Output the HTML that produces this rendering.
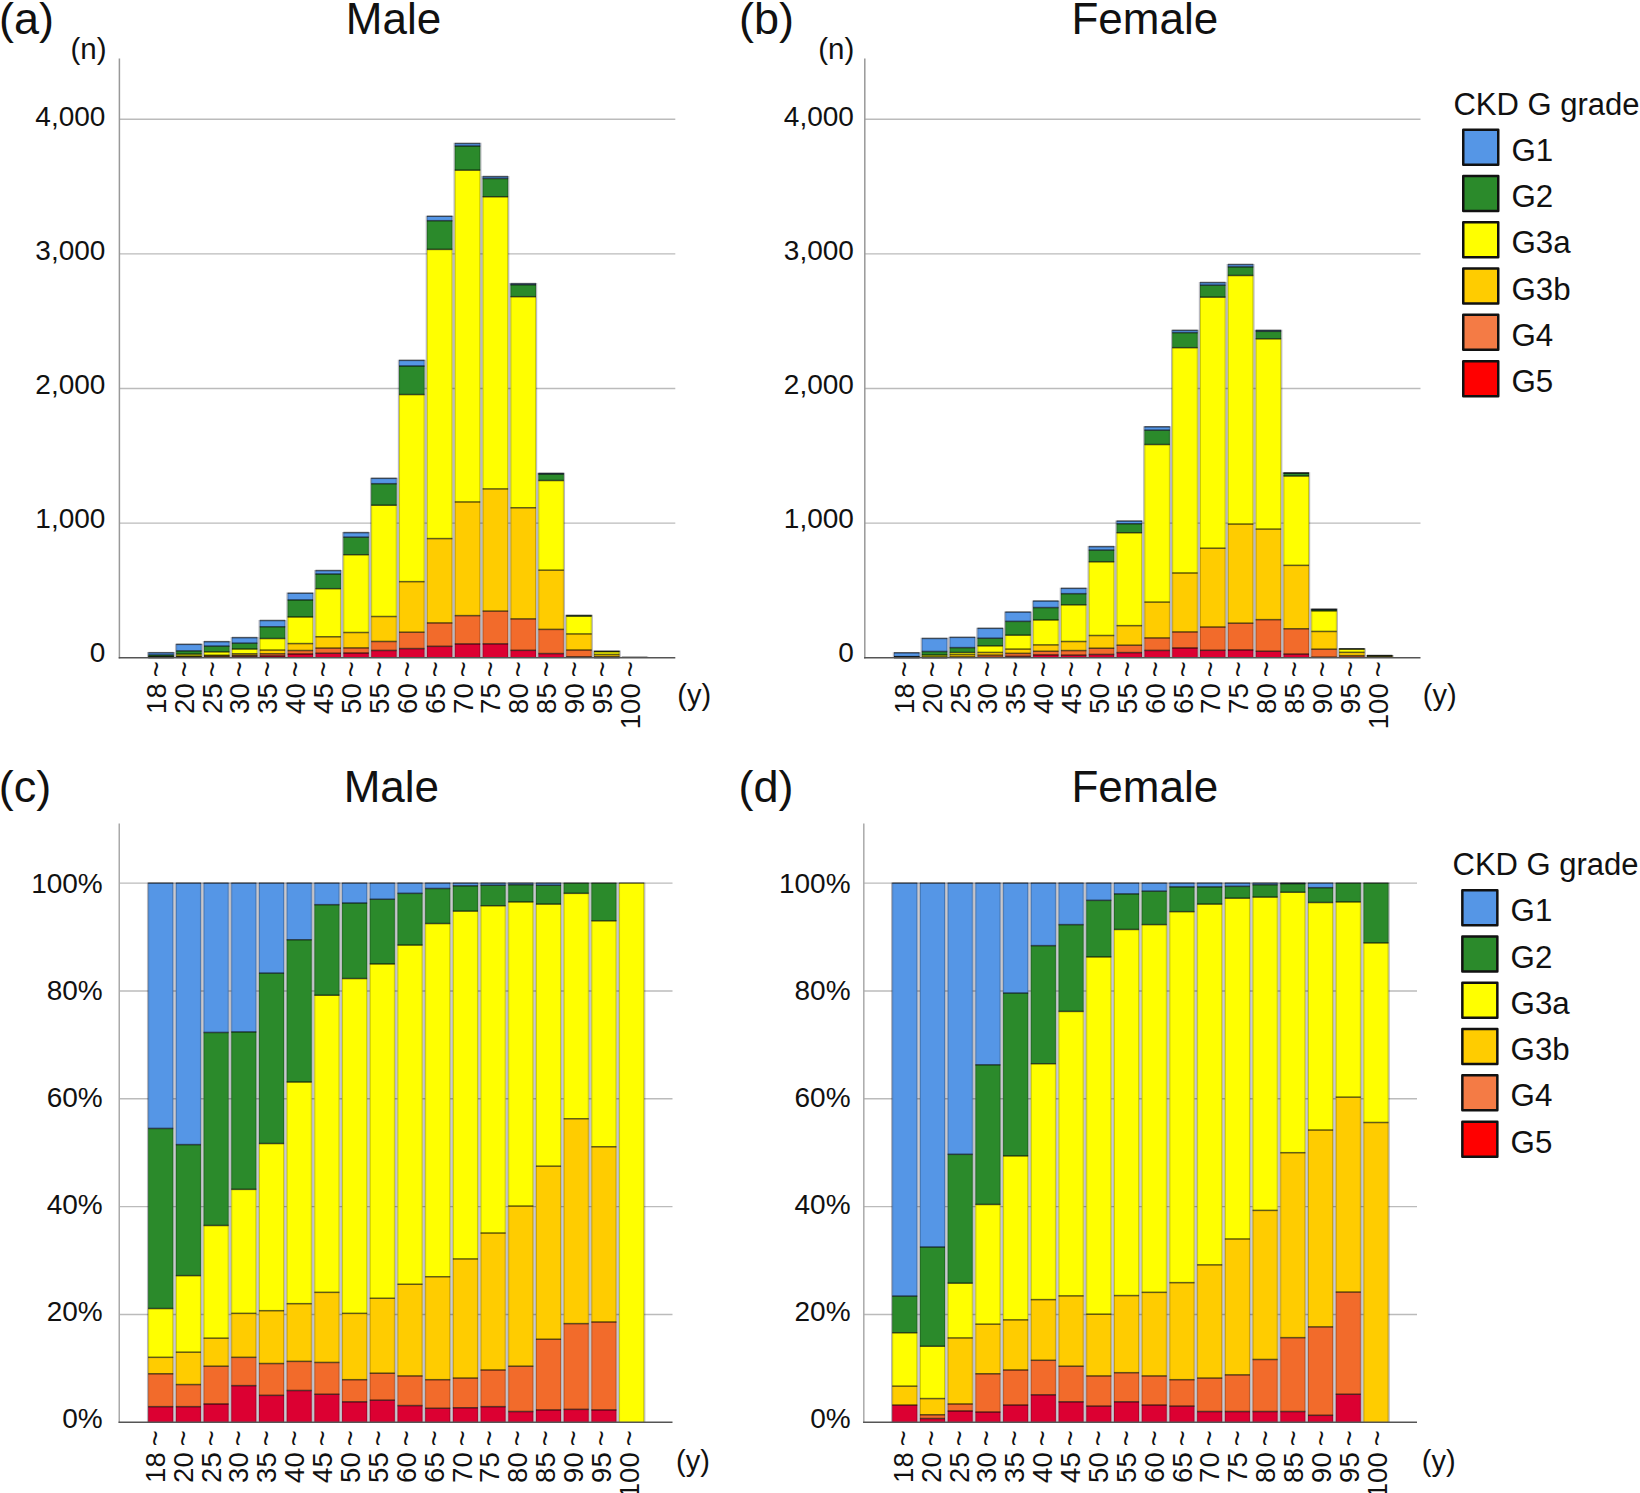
<!DOCTYPE html>
<html lang="en">
<head>
<meta charset="utf-8">
<title>CKD G grade distribution by age and sex</title>
<style>
html,body{margin:0;padding:0;background:#fff;}
body{width:1640px;height:1493px;overflow:hidden;}
svg{display:block;}
</style>
</head>
<body>
<svg width="1640" height="1493" viewBox="0 0 1640 1493">
<rect width="1640" height="1493" fill="#fff"/>
<line x1="119.4" y1="523.15" x2="675.3" y2="523.15" stroke="#bbb" stroke-width="1.4"/>
<line x1="119.4" y1="388.5" x2="675.3" y2="388.5" stroke="#bbb" stroke-width="1.4"/>
<line x1="119.4" y1="253.85" x2="675.3" y2="253.85" stroke="#bbb" stroke-width="1.4"/>
<line x1="119.4" y1="119.2" x2="675.3" y2="119.2" stroke="#bbb" stroke-width="1.4"/>
<line x1="119.4" y1="58.5" x2="119.4" y2="658.5" stroke="#999" stroke-width="1.5"/>
<g shape-rendering="auto">
<rect x="148.3" y="657.65" width="25.5" height="0.15" fill="#DC0032"/>
<rect x="148.3" y="657.34" width="25.5" height="0.31" fill="#F26B2B"/>
<rect x="148.3" y="657.18" width="25.5" height="0.16" fill="#FFCC00"/>
<rect x="148.3" y="656.72" width="25.5" height="0.46" fill="#FFFF00"/>
<rect x="148.3" y="655.01" width="25.5" height="1.71" fill="#2B8A2B"/>
<rect x="148.3" y="652.68" width="25.5" height="2.33" fill="#5596E6"/>
<rect x="176.16" y="657.41" width="25.5" height="0.39" fill="#DC0032"/>
<rect x="176.16" y="656.86" width="25.5" height="0.55" fill="#F26B2B"/>
<rect x="176.16" y="656.05" width="25.5" height="0.81" fill="#FFCC00"/>
<rect x="176.16" y="654.14" width="25.5" height="1.91" fill="#FFFF00"/>
<rect x="176.16" y="650.87" width="25.5" height="3.27" fill="#2B8A2B"/>
<rect x="176.16" y="644.33" width="25.5" height="6.53" fill="#5596E6"/>
<rect x="204.02" y="657.25" width="25.5" height="0.55" fill="#DC0032"/>
<rect x="204.02" y="656.12" width="25.5" height="1.13" fill="#F26B2B"/>
<rect x="204.02" y="655.28" width="25.5" height="0.84" fill="#FFCC00"/>
<rect x="204.02" y="651.9" width="25.5" height="3.38" fill="#FFFF00"/>
<rect x="204.02" y="646.12" width="25.5" height="5.78" fill="#2B8A2B"/>
<rect x="204.02" y="641.64" width="25.5" height="4.48" fill="#5596E6"/>
<rect x="231.88" y="656.43" width="25.5" height="1.37" fill="#DC0032"/>
<rect x="231.88" y="655.37" width="25.5" height="1.06" fill="#F26B2B"/>
<rect x="231.88" y="653.72" width="25.5" height="1.65" fill="#FFCC00"/>
<rect x="231.88" y="649.07" width="25.5" height="4.65" fill="#FFFF00"/>
<rect x="231.88" y="643.18" width="25.5" height="5.9" fill="#2B8A2B"/>
<rect x="231.88" y="637.6" width="25.5" height="5.57" fill="#5596E6"/>
<rect x="259.74" y="655.94" width="25.5" height="1.86" fill="#DC0032"/>
<rect x="259.74" y="653.73" width="25.5" height="2.2" fill="#F26B2B"/>
<rect x="259.74" y="650.08" width="25.5" height="3.66" fill="#FFCC00"/>
<rect x="259.74" y="638.52" width="25.5" height="11.56" fill="#FFFF00"/>
<rect x="259.74" y="626.73" width="25.5" height="11.79" fill="#2B8A2B"/>
<rect x="259.74" y="620.5" width="25.5" height="6.23" fill="#5596E6"/>
<rect x="287.6" y="653.99" width="25.5" height="3.81" fill="#DC0032"/>
<rect x="287.6" y="650.5" width="25.5" height="3.49" fill="#F26B2B"/>
<rect x="287.6" y="643.58" width="25.5" height="6.92" fill="#FFCC00"/>
<rect x="287.6" y="617.02" width="25.5" height="26.56" fill="#FFFF00"/>
<rect x="287.6" y="599.95" width="25.5" height="17.06" fill="#2B8A2B"/>
<rect x="287.6" y="593.17" width="25.5" height="6.79" fill="#5596E6"/>
<rect x="315.46" y="653.26" width="25.5" height="4.54" fill="#DC0032"/>
<rect x="315.46" y="648.11" width="25.5" height="5.15" fill="#F26B2B"/>
<rect x="315.46" y="636.77" width="25.5" height="11.34" fill="#FFCC00"/>
<rect x="315.46" y="588.7" width="25.5" height="48.08" fill="#FFFF00"/>
<rect x="315.46" y="574.04" width="25.5" height="14.66" fill="#2B8A2B"/>
<rect x="315.46" y="570.55" width="25.5" height="3.49" fill="#5596E6"/>
<rect x="343.32" y="653.04" width="25.5" height="4.76" fill="#DC0032"/>
<rect x="343.32" y="647.91" width="25.5" height="5.13" fill="#F26B2B"/>
<rect x="343.32" y="632.5" width="25.5" height="15.4" fill="#FFCC00"/>
<rect x="343.32" y="554.74" width="25.5" height="77.76" fill="#FFFF00"/>
<rect x="343.32" y="537.21" width="25.5" height="17.53" fill="#2B8A2B"/>
<rect x="343.32" y="532.58" width="25.5" height="4.63" fill="#5596E6"/>
<rect x="371.18" y="650.44" width="25.5" height="7.36" fill="#DC0032"/>
<rect x="371.18" y="641.47" width="25.5" height="8.97" fill="#F26B2B"/>
<rect x="371.18" y="616.52" width="25.5" height="24.95" fill="#FFCC00"/>
<rect x="371.18" y="505.23" width="25.5" height="111.28" fill="#FFFF00"/>
<rect x="371.18" y="483.7" width="25.5" height="21.54" fill="#2B8A2B"/>
<rect x="371.18" y="478.31" width="25.5" height="5.38" fill="#5596E6"/>
<rect x="399.04" y="648.58" width="25.5" height="9.22" fill="#DC0032"/>
<rect x="399.04" y="632.22" width="25.5" height="16.36" fill="#F26B2B"/>
<rect x="399.04" y="581.65" width="25.5" height="50.57" fill="#FFCC00"/>
<rect x="399.04" y="394.56" width="25.5" height="187.09" fill="#FFFF00"/>
<rect x="399.04" y="366.01" width="25.5" height="28.55" fill="#2B8A2B"/>
<rect x="399.04" y="360.36" width="25.5" height="5.65" fill="#5596E6"/>
<rect x="426.9" y="646.32" width="25.5" height="11.48" fill="#DC0032"/>
<rect x="426.9" y="622.92" width="25.5" height="23.4" fill="#F26B2B"/>
<rect x="426.9" y="538.59" width="25.5" height="84.33" fill="#FFCC00"/>
<rect x="426.9" y="249.4" width="25.5" height="289.19" fill="#FFFF00"/>
<rect x="426.9" y="220.7" width="25.5" height="28.7" fill="#2B8A2B"/>
<rect x="426.9" y="216.28" width="25.5" height="4.42" fill="#5596E6"/>
<rect x="454.76" y="643.91" width="25.5" height="13.89" fill="#DC0032"/>
<rect x="454.76" y="615.62" width="25.5" height="28.29" fill="#F26B2B"/>
<rect x="454.76" y="501.95" width="25.5" height="113.67" fill="#FFCC00"/>
<rect x="454.76" y="170.18" width="25.5" height="331.76" fill="#FFFF00"/>
<rect x="454.76" y="146.01" width="25.5" height="24.18" fill="#2B8A2B"/>
<rect x="454.76" y="143.44" width="25.5" height="2.57" fill="#5596E6"/>
<rect x="482.62" y="643.84" width="25.5" height="13.96" fill="#DC0032"/>
<rect x="482.62" y="611.12" width="25.5" height="32.72" fill="#F26B2B"/>
<rect x="482.62" y="488.89" width="25.5" height="122.23" fill="#FFCC00"/>
<rect x="482.62" y="196.77" width="25.5" height="292.11" fill="#FFFF00"/>
<rect x="482.62" y="178.49" width="25.5" height="18.29" fill="#2B8A2B"/>
<rect x="482.62" y="176.56" width="25.5" height="1.92" fill="#5596E6"/>
<rect x="510.48" y="650.32" width="25.5" height="7.48" fill="#DC0032"/>
<rect x="510.48" y="618.88" width="25.5" height="31.43" fill="#F26B2B"/>
<rect x="510.48" y="507.75" width="25.5" height="111.14" fill="#FFCC00"/>
<rect x="510.48" y="296.7" width="25.5" height="211.04" fill="#FFFF00"/>
<rect x="510.48" y="284.73" width="25.5" height="11.97" fill="#2B8A2B"/>
<rect x="510.48" y="283.61" width="25.5" height="1.12" fill="#5596E6"/>
<rect x="538.34" y="653.56" width="25.5" height="4.24" fill="#DC0032"/>
<rect x="538.34" y="629.39" width="25.5" height="24.17" fill="#F26B2B"/>
<rect x="538.34" y="570.18" width="25.5" height="59.22" fill="#FFCC00"/>
<rect x="538.34" y="480.52" width="25.5" height="89.65" fill="#FFFF00"/>
<rect x="538.34" y="474.07" width="25.5" height="6.46" fill="#2B8A2B"/>
<rect x="538.34" y="473.33" width="25.5" height="0.74" fill="#5596E6"/>
<rect x="566.2" y="656.78" width="25.5" height="1.02" fill="#DC0032"/>
<rect x="566.2" y="650.04" width="25.5" height="6.74" fill="#F26B2B"/>
<rect x="566.2" y="633.92" width="25.5" height="16.12" fill="#FFCC00"/>
<rect x="566.2" y="616.19" width="25.5" height="17.73" fill="#FFFF00"/>
<rect x="566.2" y="615.39" width="25.5" height="0.81" fill="#2B8A2B"/>
<rect x="594.06" y="657.65" width="25.5" height="0.15" fill="#DC0032"/>
<rect x="594.06" y="656.57" width="25.5" height="1.08" fill="#F26B2B"/>
<rect x="594.06" y="654.43" width="25.5" height="2.14" fill="#FFCC00"/>
<rect x="594.06" y="651.66" width="25.5" height="2.76" fill="#FFFF00"/>
<rect x="594.06" y="651.2" width="25.5" height="0.46" fill="#2B8A2B"/>
<rect x="621.92" y="657.26" width="25.5" height="0.54" fill="#FFFF00"/>
</g>
<g stroke="#000" stroke-opacity="0.2" stroke-width="1" fill="none">
<path d="M148.8 657.8V652.68M173.3 657.8V652.68"/>
<path d="M176.66 657.8V644.33M201.16 657.8V644.33"/>
<path d="M204.52 657.8V641.64M229.02 657.8V641.64"/>
<path d="M232.38 657.8V637.6M256.88 657.8V637.6"/>
<path d="M260.24 657.8V620.5M284.74 657.8V620.5"/>
<path d="M288.1 657.8V593.17M312.6 657.8V593.17"/>
<path d="M315.96 657.8V570.55M340.46 657.8V570.55"/>
<path d="M343.82 657.8V532.58M368.32 657.8V532.58"/>
<path d="M371.68 657.8V478.31M396.18 657.8V478.31"/>
<path d="M399.54 657.8V360.36M424.04 657.8V360.36"/>
<path d="M427.4 657.8V216.28M451.9 657.8V216.28"/>
<path d="M455.26 657.8V143.44M479.76 657.8V143.44"/>
<path d="M483.12 657.8V176.56M507.62 657.8V176.56"/>
<path d="M510.98 657.8V283.61M535.48 657.8V283.61"/>
<path d="M538.84 657.8V473.33M563.34 657.8V473.33"/>
<path d="M566.7 657.8V615.39M591.2 657.8V615.39"/>
<path d="M594.56 657.8V651.2M619.06 657.8V651.2"/>
<path d="M622.42 657.8V657.26M646.92 657.8V657.26"/>
</g>
<g stroke="#14142a" stroke-opacity="0.3" stroke-width="1.2" fill="none">
<path d="M147.7 657.8V652.08M174.4 657.8V652.08"/>
<path d="M175.56 657.8V643.73M202.26 657.8V643.73"/>
<path d="M203.42 657.8V641.04M230.12 657.8V641.04"/>
<path d="M231.28 657.8V637M257.98 657.8V637"/>
<path d="M259.14 657.8V619.9M285.84 657.8V619.9"/>
<path d="M287 657.8V592.57M313.7 657.8V592.57"/>
<path d="M314.86 657.8V569.95M341.56 657.8V569.95"/>
<path d="M342.72 657.8V531.98M369.42 657.8V531.98"/>
<path d="M370.58 657.8V477.71M397.28 657.8V477.71"/>
<path d="M398.44 657.8V359.76M425.14 657.8V359.76"/>
<path d="M426.3 657.8V215.68M453 657.8V215.68"/>
<path d="M454.16 657.8V142.84M480.86 657.8V142.84"/>
<path d="M482.02 657.8V175.96M508.72 657.8V175.96"/>
<path d="M509.88 657.8V283.01M536.58 657.8V283.01"/>
<path d="M537.74 657.8V472.73M564.44 657.8V472.73"/>
<path d="M565.6 657.8V614.79M592.3 657.8V614.79"/>
<path d="M593.46 657.8V650.6M620.16 657.8V650.6"/>
<path d="M621.32 657.8V656.66M648.02 657.8V656.66"/>
</g>
<g stroke="#000" stroke-opacity="0.62" stroke-width="1.5" fill="none">
<path d="M148.3 657.65h25.5"/>
<path d="M148.3 657.34h25.5"/>
<path d="M148.3 657.18h25.5"/>
<path d="M148.3 656.72h25.5"/>
<path d="M148.3 655.01h25.5"/>
<path d="M148.3 652.68h25.5"/>
<path d="M176.16 657.41h25.5"/>
<path d="M176.16 656.86h25.5"/>
<path d="M176.16 656.05h25.5"/>
<path d="M176.16 654.14h25.5"/>
<path d="M176.16 650.87h25.5"/>
<path d="M176.16 644.33h25.5"/>
<path d="M204.02 657.25h25.5"/>
<path d="M204.02 656.12h25.5"/>
<path d="M204.02 655.28h25.5"/>
<path d="M204.02 651.9h25.5"/>
<path d="M204.02 646.12h25.5"/>
<path d="M204.02 641.64h25.5"/>
<path d="M231.88 656.43h25.5"/>
<path d="M231.88 655.37h25.5"/>
<path d="M231.88 653.72h25.5"/>
<path d="M231.88 649.07h25.5"/>
<path d="M231.88 643.18h25.5"/>
<path d="M231.88 637.6h25.5"/>
<path d="M259.74 655.94h25.5"/>
<path d="M259.74 653.73h25.5"/>
<path d="M259.74 650.08h25.5"/>
<path d="M259.74 638.52h25.5"/>
<path d="M259.74 626.73h25.5"/>
<path d="M259.74 620.5h25.5"/>
<path d="M287.6 653.99h25.5"/>
<path d="M287.6 650.5h25.5"/>
<path d="M287.6 643.58h25.5"/>
<path d="M287.6 617.02h25.5"/>
<path d="M287.6 599.95h25.5"/>
<path d="M287.6 593.17h25.5"/>
<path d="M315.46 653.26h25.5"/>
<path d="M315.46 648.11h25.5"/>
<path d="M315.46 636.77h25.5"/>
<path d="M315.46 588.7h25.5"/>
<path d="M315.46 574.04h25.5"/>
<path d="M315.46 570.55h25.5"/>
<path d="M343.32 653.04h25.5"/>
<path d="M343.32 647.91h25.5"/>
<path d="M343.32 632.5h25.5"/>
<path d="M343.32 554.74h25.5"/>
<path d="M343.32 537.21h25.5"/>
<path d="M343.32 532.58h25.5"/>
<path d="M371.18 650.44h25.5"/>
<path d="M371.18 641.47h25.5"/>
<path d="M371.18 616.52h25.5"/>
<path d="M371.18 505.23h25.5"/>
<path d="M371.18 483.7h25.5"/>
<path d="M371.18 478.31h25.5"/>
<path d="M399.04 648.58h25.5"/>
<path d="M399.04 632.22h25.5"/>
<path d="M399.04 581.65h25.5"/>
<path d="M399.04 394.56h25.5"/>
<path d="M399.04 366.01h25.5"/>
<path d="M399.04 360.36h25.5"/>
<path d="M426.9 646.32h25.5"/>
<path d="M426.9 622.92h25.5"/>
<path d="M426.9 538.59h25.5"/>
<path d="M426.9 249.4h25.5"/>
<path d="M426.9 220.7h25.5"/>
<path d="M426.9 216.28h25.5"/>
<path d="M454.76 643.91h25.5"/>
<path d="M454.76 615.62h25.5"/>
<path d="M454.76 501.95h25.5"/>
<path d="M454.76 170.18h25.5"/>
<path d="M454.76 146.01h25.5"/>
<path d="M454.76 143.44h25.5"/>
<path d="M482.62 643.84h25.5"/>
<path d="M482.62 611.12h25.5"/>
<path d="M482.62 488.89h25.5"/>
<path d="M482.62 196.77h25.5"/>
<path d="M482.62 178.49h25.5"/>
<path d="M482.62 176.56h25.5"/>
<path d="M510.48 650.32h25.5"/>
<path d="M510.48 618.88h25.5"/>
<path d="M510.48 507.75h25.5"/>
<path d="M510.48 296.7h25.5"/>
<path d="M510.48 284.73h25.5"/>
<path d="M510.48 283.61h25.5"/>
<path d="M538.34 653.56h25.5"/>
<path d="M538.34 629.39h25.5"/>
<path d="M538.34 570.18h25.5"/>
<path d="M538.34 480.52h25.5"/>
<path d="M538.34 474.07h25.5"/>
<path d="M538.34 473.33h25.5"/>
<path d="M566.2 656.78h25.5"/>
<path d="M566.2 650.04h25.5"/>
<path d="M566.2 633.92h25.5"/>
<path d="M566.2 616.19h25.5"/>
<path d="M566.2 615.39h25.5"/>
<path d="M594.06 657.65h25.5"/>
<path d="M594.06 656.57h25.5"/>
<path d="M594.06 654.43h25.5"/>
<path d="M594.06 651.66h25.5"/>
<path d="M594.06 651.2h25.5"/>
<path d="M621.92 657.26h25.5"/>
</g>
<line x1="118.7" y1="657.8" x2="675.3" y2="657.8" stroke="#555" stroke-width="1.5"/>
<g font-family="'Liberation Sans', sans-serif" font-size="28" fill="#111" text-anchor="end">
<text x="105.4" y="662.2">0</text>
<text x="105.4" y="528.2">1,000</text>
<text x="105.4" y="394.2">2,000</text>
<text x="105.4" y="260.2">3,000</text>
<text x="105.4" y="126.2">4,000</text>
</g>
<text font-family="'Liberation Sans', sans-serif" font-size="29.5" fill="#111" x="70.5" y="59.4">(n)</text>
<g font-family="'Liberation Sans', sans-serif" font-size="27.5" fill="#111" text-anchor="end" word-spacing="-1.6">
<text transform="translate(165.8 661.2) rotate(-90)">18 ~</text>
<text transform="translate(193.69 661.2) rotate(-90)">20 ~</text>
<text transform="translate(221.58 661.2) rotate(-90)">25 ~</text>
<text transform="translate(249.47 661.2) rotate(-90)">30 ~</text>
<text transform="translate(277.36 661.2) rotate(-90)">35 ~</text>
<text transform="translate(305.25 661.2) rotate(-90)">40 ~</text>
<text transform="translate(333.14 661.2) rotate(-90)">45 ~</text>
<text transform="translate(361.03 661.2) rotate(-90)">50 ~</text>
<text transform="translate(388.92 661.2) rotate(-90)">55 ~</text>
<text transform="translate(416.81 661.2) rotate(-90)">60 ~</text>
<text transform="translate(444.7 661.2) rotate(-90)">65 ~</text>
<text transform="translate(472.59 661.2) rotate(-90)">70 ~</text>
<text transform="translate(500.48 661.2) rotate(-90)">75 ~</text>
<text transform="translate(528.37 661.2) rotate(-90)">80 ~</text>
<text transform="translate(556.26 661.2) rotate(-90)">85 ~</text>
<text transform="translate(584.15 661.2) rotate(-90)">90 ~</text>
<text transform="translate(612.04 661.2) rotate(-90)">95 ~</text>
<text transform="translate(639.93 661.2) rotate(-90)">100 ~</text>
</g>
<text font-family="'Liberation Sans', sans-serif" font-size="29" fill="#111" x="677.3" y="705.2">(y)</text>
<text font-family="'Liberation Sans', sans-serif" font-size="45" fill="#111" x="-1" y="34">(a)</text>
<text font-family="'Liberation Sans', sans-serif" font-size="44" fill="#111" text-anchor="middle" x="393.5" y="34.4">Male</text>
<line x1="864.8" y1="523.15" x2="1420.5" y2="523.15" stroke="#bbb" stroke-width="1.4"/>
<line x1="864.8" y1="388.5" x2="1420.5" y2="388.5" stroke="#bbb" stroke-width="1.4"/>
<line x1="864.8" y1="253.85" x2="1420.5" y2="253.85" stroke="#bbb" stroke-width="1.4"/>
<line x1="864.8" y1="119.2" x2="1420.5" y2="119.2" stroke="#bbb" stroke-width="1.4"/>
<line x1="864.8" y1="58.5" x2="864.8" y2="658.5" stroke="#999" stroke-width="1.5"/>
<g shape-rendering="auto">
<rect x="894" y="657.64" width="25.5" height="0.16" fill="#DC0032"/>
<rect x="894" y="657.46" width="25.5" height="0.18" fill="#FFCC00"/>
<rect x="894" y="656.96" width="25.5" height="0.5" fill="#FFFF00"/>
<rect x="894" y="656.62" width="25.5" height="0.34" fill="#2B8A2B"/>
<rect x="894" y="652.75" width="25.5" height="3.87" fill="#5596E6"/>
<rect x="921.82" y="657.66" width="25.5" height="0.14" fill="#DC0032"/>
<rect x="921.82" y="657.53" width="25.5" height="0.14" fill="#F26B2B"/>
<rect x="921.82" y="656.95" width="25.5" height="0.58" fill="#FFCC00"/>
<rect x="921.82" y="655.07" width="25.5" height="1.88" fill="#FFFF00"/>
<rect x="921.82" y="651.5" width="25.5" height="3.57" fill="#2B8A2B"/>
<rect x="921.82" y="638.41" width="25.5" height="13.09" fill="#5596E6"/>
<rect x="949.64" y="657.37" width="25.5" height="0.43" fill="#DC0032"/>
<rect x="949.64" y="657.1" width="25.5" height="0.27" fill="#F26B2B"/>
<rect x="949.64" y="654.6" width="25.5" height="2.51" fill="#FFCC00"/>
<rect x="949.64" y="652.52" width="25.5" height="2.08" fill="#FFFF00"/>
<rect x="949.64" y="647.63" width="25.5" height="4.89" fill="#2B8A2B"/>
<rect x="949.64" y="637.33" width="25.5" height="10.29" fill="#5596E6"/>
<rect x="977.46" y="657.24" width="25.5" height="0.56" fill="#DC0032"/>
<rect x="977.46" y="655.15" width="25.5" height="2.09" fill="#F26B2B"/>
<rect x="977.46" y="652.43" width="25.5" height="2.71" fill="#FFCC00"/>
<rect x="977.46" y="645.89" width="25.5" height="6.55" fill="#FFFF00"/>
<rect x="977.46" y="638.25" width="25.5" height="7.64" fill="#2B8A2B"/>
<rect x="977.46" y="628.31" width="25.5" height="9.94" fill="#5596E6"/>
<rect x="1005.28" y="656.34" width="25.5" height="1.46" fill="#DC0032"/>
<rect x="1005.28" y="653.36" width="25.5" height="2.98" fill="#F26B2B"/>
<rect x="1005.28" y="649.1" width="25.5" height="4.26" fill="#FFCC00"/>
<rect x="1005.28" y="635.18" width="25.5" height="13.92" fill="#FFFF00"/>
<rect x="1005.28" y="621.36" width="25.5" height="13.83" fill="#2B8A2B"/>
<rect x="1005.28" y="612.02" width="25.5" height="9.34" fill="#5596E6"/>
<rect x="1033.1" y="654.9" width="25.5" height="2.9" fill="#DC0032"/>
<rect x="1033.1" y="651.27" width="25.5" height="3.64" fill="#F26B2B"/>
<rect x="1033.1" y="644.87" width="25.5" height="6.39" fill="#FFCC00"/>
<rect x="1033.1" y="620.01" width="25.5" height="24.86" fill="#FFFF00"/>
<rect x="1033.1" y="607.57" width="25.5" height="12.44" fill="#2B8A2B"/>
<rect x="1033.1" y="600.98" width="25.5" height="6.59" fill="#5596E6"/>
<rect x="1060.92" y="655.16" width="25.5" height="2.64" fill="#DC0032"/>
<rect x="1060.92" y="650.57" width="25.5" height="4.59" fill="#F26B2B"/>
<rect x="1060.92" y="641.51" width="25.5" height="9.07" fill="#FFCC00"/>
<rect x="1060.92" y="604.86" width="25.5" height="36.65" fill="#FFFF00"/>
<rect x="1060.92" y="593.67" width="25.5" height="11.19" fill="#2B8A2B"/>
<rect x="1060.92" y="588.32" width="25.5" height="5.35" fill="#5596E6"/>
<rect x="1088.74" y="654.46" width="25.5" height="3.34" fill="#DC0032"/>
<rect x="1088.74" y="648.24" width="25.5" height="6.23" fill="#F26B2B"/>
<rect x="1088.74" y="635.5" width="25.5" height="12.73" fill="#FFCC00"/>
<rect x="1088.74" y="561.82" width="25.5" height="73.68" fill="#FFFF00"/>
<rect x="1088.74" y="550.14" width="25.5" height="11.68" fill="#2B8A2B"/>
<rect x="1088.74" y="546.58" width="25.5" height="3.56" fill="#5596E6"/>
<rect x="1116.56" y="652.6" width="25.5" height="5.2" fill="#DC0032"/>
<rect x="1116.56" y="645.21" width="25.5" height="7.39" fill="#F26B2B"/>
<rect x="1116.56" y="625.65" width="25.5" height="19.56" fill="#FFCC00"/>
<rect x="1116.56" y="532.76" width="25.5" height="92.89" fill="#FFFF00"/>
<rect x="1116.56" y="523.73" width="25.5" height="9.03" fill="#2B8A2B"/>
<rect x="1116.56" y="521" width="25.5" height="2.74" fill="#5596E6"/>
<rect x="1144.38" y="650.41" width="25.5" height="7.39" fill="#DC0032"/>
<rect x="1144.38" y="637.93" width="25.5" height="12.48" fill="#F26B2B"/>
<rect x="1144.38" y="602.11" width="25.5" height="35.81" fill="#FFCC00"/>
<rect x="1144.38" y="444.53" width="25.5" height="157.58" fill="#FFFF00"/>
<rect x="1144.38" y="430.21" width="25.5" height="14.33" fill="#2B8A2B"/>
<rect x="1144.38" y="426.74" width="25.5" height="3.47" fill="#5596E6"/>
<rect x="1172.2" y="647.98" width="25.5" height="9.82" fill="#DC0032"/>
<rect x="1172.2" y="631.93" width="25.5" height="16.05" fill="#F26B2B"/>
<rect x="1172.2" y="572.99" width="25.5" height="58.94" fill="#FFCC00"/>
<rect x="1172.2" y="347.69" width="25.5" height="225.3" fill="#FFFF00"/>
<rect x="1172.2" y="332.62" width="25.5" height="15.06" fill="#2B8A2B"/>
<rect x="1172.2" y="330.33" width="25.5" height="2.29" fill="#5596E6"/>
<rect x="1200.02" y="650.29" width="25.5" height="7.51" fill="#DC0032"/>
<rect x="1200.02" y="627.03" width="25.5" height="23.27" fill="#F26B2B"/>
<rect x="1200.02" y="548.22" width="25.5" height="78.81" fill="#FFCC00"/>
<rect x="1200.02" y="297.17" width="25.5" height="251.06" fill="#FFFF00"/>
<rect x="1200.02" y="285.16" width="25.5" height="12.01" fill="#2B8A2B"/>
<rect x="1200.02" y="282.53" width="25.5" height="2.63" fill="#5596E6"/>
<rect x="1227.84" y="649.93" width="25.5" height="7.87" fill="#DC0032"/>
<rect x="1227.84" y="623.19" width="25.5" height="26.75" fill="#F26B2B"/>
<rect x="1227.84" y="524.07" width="25.5" height="99.11" fill="#FFCC00"/>
<rect x="1227.84" y="275.5" width="25.5" height="248.57" fill="#FFFF00"/>
<rect x="1227.84" y="266.85" width="25.5" height="8.65" fill="#2B8A2B"/>
<rect x="1227.84" y="264.49" width="25.5" height="2.36" fill="#5596E6"/>
<rect x="1255.66" y="651.25" width="25.5" height="6.55" fill="#DC0032"/>
<rect x="1255.66" y="619.65" width="25.5" height="31.6" fill="#F26B2B"/>
<rect x="1255.66" y="529.1" width="25.5" height="90.55" fill="#FFCC00"/>
<rect x="1255.66" y="338.85" width="25.5" height="190.26" fill="#FFFF00"/>
<rect x="1255.66" y="331.31" width="25.5" height="7.53" fill="#2B8A2B"/>
<rect x="1255.66" y="330.33" width="25.5" height="0.98" fill="#5596E6"/>
<rect x="1283.48" y="654.1" width="25.5" height="3.7" fill="#DC0032"/>
<rect x="1283.48" y="628.77" width="25.5" height="25.33" fill="#F26B2B"/>
<rect x="1283.48" y="565.36" width="25.5" height="63.41" fill="#FFCC00"/>
<rect x="1283.48" y="476.07" width="25.5" height="89.29" fill="#FFFF00"/>
<rect x="1283.48" y="473.11" width="25.5" height="2.96" fill="#2B8A2B"/>
<rect x="1283.48" y="472.93" width="25.5" height="0.18" fill="#5596E6"/>
<rect x="1311.3" y="657.17" width="25.5" height="0.63" fill="#DC0032"/>
<rect x="1311.3" y="649.2" width="25.5" height="7.97" fill="#F26B2B"/>
<rect x="1311.3" y="631.45" width="25.5" height="17.74" fill="#FFCC00"/>
<rect x="1311.3" y="610.94" width="25.5" height="20.51" fill="#FFFF00"/>
<rect x="1311.3" y="609.6" width="25.5" height="1.34" fill="#2B8A2B"/>
<rect x="1311.3" y="609.19" width="25.5" height="0.41" fill="#5596E6"/>
<rect x="1339.12" y="657.33" width="25.5" height="0.47" fill="#DC0032"/>
<rect x="1339.12" y="655.62" width="25.5" height="1.71" fill="#F26B2B"/>
<rect x="1339.12" y="652.36" width="25.5" height="3.26" fill="#FFCC00"/>
<rect x="1339.12" y="649.09" width="25.5" height="3.27" fill="#FFFF00"/>
<rect x="1339.12" y="648.78" width="25.5" height="0.32" fill="#2B8A2B"/>
<rect x="1366.94" y="656.53" width="25.5" height="1.27" fill="#FFCC00"/>
<rect x="1366.94" y="655.77" width="25.5" height="0.76" fill="#FFFF00"/>
<rect x="1366.94" y="655.51" width="25.5" height="0.25" fill="#2B8A2B"/>
</g>
<g stroke="#000" stroke-opacity="0.2" stroke-width="1" fill="none">
<path d="M894.5 657.8V652.75M919 657.8V652.75"/>
<path d="M922.32 657.8V638.41M946.82 657.8V638.41"/>
<path d="M950.14 657.8V637.33M974.64 657.8V637.33"/>
<path d="M977.96 657.8V628.31M1002.46 657.8V628.31"/>
<path d="M1005.78 657.8V612.02M1030.28 657.8V612.02"/>
<path d="M1033.6 657.8V600.98M1058.1 657.8V600.98"/>
<path d="M1061.42 657.8V588.32M1085.92 657.8V588.32"/>
<path d="M1089.24 657.8V546.58M1113.74 657.8V546.58"/>
<path d="M1117.06 657.8V521M1141.56 657.8V521"/>
<path d="M1144.88 657.8V426.74M1169.38 657.8V426.74"/>
<path d="M1172.7 657.8V330.33M1197.2 657.8V330.33"/>
<path d="M1200.52 657.8V282.53M1225.02 657.8V282.53"/>
<path d="M1228.34 657.8V264.49M1252.84 657.8V264.49"/>
<path d="M1256.16 657.8V330.33M1280.66 657.8V330.33"/>
<path d="M1283.98 657.8V472.93M1308.48 657.8V472.93"/>
<path d="M1311.8 657.8V609.19M1336.3 657.8V609.19"/>
<path d="M1339.62 657.8V648.78M1364.12 657.8V648.78"/>
<path d="M1367.44 657.8V655.51M1391.94 657.8V655.51"/>
</g>
<g stroke="#14142a" stroke-opacity="0.3" stroke-width="1.2" fill="none">
<path d="M893.4 657.8V652.15M920.1 657.8V652.15"/>
<path d="M921.22 657.8V637.81M947.92 657.8V637.81"/>
<path d="M949.04 657.8V636.73M975.74 657.8V636.73"/>
<path d="M976.86 657.8V627.71M1003.56 657.8V627.71"/>
<path d="M1004.68 657.8V611.42M1031.38 657.8V611.42"/>
<path d="M1032.5 657.8V600.38M1059.2 657.8V600.38"/>
<path d="M1060.32 657.8V587.72M1087.02 657.8V587.72"/>
<path d="M1088.14 657.8V545.98M1114.84 657.8V545.98"/>
<path d="M1115.96 657.8V520.4M1142.66 657.8V520.4"/>
<path d="M1143.78 657.8V426.14M1170.48 657.8V426.14"/>
<path d="M1171.6 657.8V329.73M1198.3 657.8V329.73"/>
<path d="M1199.42 657.8V281.93M1226.12 657.8V281.93"/>
<path d="M1227.24 657.8V263.89M1253.94 657.8V263.89"/>
<path d="M1255.06 657.8V329.73M1281.76 657.8V329.73"/>
<path d="M1282.88 657.8V472.33M1309.58 657.8V472.33"/>
<path d="M1310.7 657.8V608.59M1337.4 657.8V608.59"/>
<path d="M1338.52 657.8V648.18M1365.22 657.8V648.18"/>
<path d="M1366.34 657.8V654.91M1393.04 657.8V654.91"/>
</g>
<g stroke="#000" stroke-opacity="0.62" stroke-width="1.5" fill="none">
<path d="M894 657.64h25.5"/>
<path d="M894 657.46h25.5"/>
<path d="M894 656.96h25.5"/>
<path d="M894 656.62h25.5"/>
<path d="M894 652.75h25.5"/>
<path d="M921.82 657.66h25.5"/>
<path d="M921.82 657.53h25.5"/>
<path d="M921.82 656.95h25.5"/>
<path d="M921.82 655.07h25.5"/>
<path d="M921.82 651.5h25.5"/>
<path d="M921.82 638.41h25.5"/>
<path d="M949.64 657.37h25.5"/>
<path d="M949.64 657.1h25.5"/>
<path d="M949.64 654.6h25.5"/>
<path d="M949.64 652.52h25.5"/>
<path d="M949.64 647.63h25.5"/>
<path d="M949.64 637.33h25.5"/>
<path d="M977.46 657.24h25.5"/>
<path d="M977.46 655.15h25.5"/>
<path d="M977.46 652.43h25.5"/>
<path d="M977.46 645.89h25.5"/>
<path d="M977.46 638.25h25.5"/>
<path d="M977.46 628.31h25.5"/>
<path d="M1005.28 656.34h25.5"/>
<path d="M1005.28 653.36h25.5"/>
<path d="M1005.28 649.1h25.5"/>
<path d="M1005.28 635.18h25.5"/>
<path d="M1005.28 621.36h25.5"/>
<path d="M1005.28 612.02h25.5"/>
<path d="M1033.1 654.9h25.5"/>
<path d="M1033.1 651.27h25.5"/>
<path d="M1033.1 644.87h25.5"/>
<path d="M1033.1 620.01h25.5"/>
<path d="M1033.1 607.57h25.5"/>
<path d="M1033.1 600.98h25.5"/>
<path d="M1060.92 655.16h25.5"/>
<path d="M1060.92 650.57h25.5"/>
<path d="M1060.92 641.51h25.5"/>
<path d="M1060.92 604.86h25.5"/>
<path d="M1060.92 593.67h25.5"/>
<path d="M1060.92 588.32h25.5"/>
<path d="M1088.74 654.46h25.5"/>
<path d="M1088.74 648.24h25.5"/>
<path d="M1088.74 635.5h25.5"/>
<path d="M1088.74 561.82h25.5"/>
<path d="M1088.74 550.14h25.5"/>
<path d="M1088.74 546.58h25.5"/>
<path d="M1116.56 652.6h25.5"/>
<path d="M1116.56 645.21h25.5"/>
<path d="M1116.56 625.65h25.5"/>
<path d="M1116.56 532.76h25.5"/>
<path d="M1116.56 523.73h25.5"/>
<path d="M1116.56 521h25.5"/>
<path d="M1144.38 650.41h25.5"/>
<path d="M1144.38 637.93h25.5"/>
<path d="M1144.38 602.11h25.5"/>
<path d="M1144.38 444.53h25.5"/>
<path d="M1144.38 430.21h25.5"/>
<path d="M1144.38 426.74h25.5"/>
<path d="M1172.2 647.98h25.5"/>
<path d="M1172.2 631.93h25.5"/>
<path d="M1172.2 572.99h25.5"/>
<path d="M1172.2 347.69h25.5"/>
<path d="M1172.2 332.62h25.5"/>
<path d="M1172.2 330.33h25.5"/>
<path d="M1200.02 650.29h25.5"/>
<path d="M1200.02 627.03h25.5"/>
<path d="M1200.02 548.22h25.5"/>
<path d="M1200.02 297.17h25.5"/>
<path d="M1200.02 285.16h25.5"/>
<path d="M1200.02 282.53h25.5"/>
<path d="M1227.84 649.93h25.5"/>
<path d="M1227.84 623.19h25.5"/>
<path d="M1227.84 524.07h25.5"/>
<path d="M1227.84 275.5h25.5"/>
<path d="M1227.84 266.85h25.5"/>
<path d="M1227.84 264.49h25.5"/>
<path d="M1255.66 651.25h25.5"/>
<path d="M1255.66 619.65h25.5"/>
<path d="M1255.66 529.1h25.5"/>
<path d="M1255.66 338.85h25.5"/>
<path d="M1255.66 331.31h25.5"/>
<path d="M1255.66 330.33h25.5"/>
<path d="M1283.48 654.1h25.5"/>
<path d="M1283.48 628.77h25.5"/>
<path d="M1283.48 565.36h25.5"/>
<path d="M1283.48 476.07h25.5"/>
<path d="M1283.48 473.11h25.5"/>
<path d="M1283.48 472.93h25.5"/>
<path d="M1311.3 657.17h25.5"/>
<path d="M1311.3 649.2h25.5"/>
<path d="M1311.3 631.45h25.5"/>
<path d="M1311.3 610.94h25.5"/>
<path d="M1311.3 609.6h25.5"/>
<path d="M1311.3 609.19h25.5"/>
<path d="M1339.12 657.33h25.5"/>
<path d="M1339.12 655.62h25.5"/>
<path d="M1339.12 652.36h25.5"/>
<path d="M1339.12 649.09h25.5"/>
<path d="M1339.12 648.78h25.5"/>
<path d="M1366.94 656.53h25.5"/>
<path d="M1366.94 655.77h25.5"/>
<path d="M1366.94 655.51h25.5"/>
</g>
<line x1="864.1" y1="657.8" x2="1420.5" y2="657.8" stroke="#555" stroke-width="1.5"/>
<g font-family="'Liberation Sans', sans-serif" font-size="28" fill="#111" text-anchor="end">
<text x="853.9" y="662.2">0</text>
<text x="853.9" y="528.2">1,000</text>
<text x="853.9" y="394.2">2,000</text>
<text x="853.9" y="260.2">3,000</text>
<text x="853.9" y="126.2">4,000</text>
</g>
<text font-family="'Liberation Sans', sans-serif" font-size="29.5" fill="#111" x="818.3" y="59.4">(n)</text>
<g font-family="'Liberation Sans', sans-serif" font-size="27.5" fill="#111" text-anchor="end" word-spacing="-1.6">
<text transform="translate(913.8 661.2) rotate(-90)">18 ~</text>
<text transform="translate(941.67 661.2) rotate(-90)">20 ~</text>
<text transform="translate(969.54 661.2) rotate(-90)">25 ~</text>
<text transform="translate(997.41 661.2) rotate(-90)">30 ~</text>
<text transform="translate(1025.28 661.2) rotate(-90)">35 ~</text>
<text transform="translate(1053.15 661.2) rotate(-90)">40 ~</text>
<text transform="translate(1081.02 661.2) rotate(-90)">45 ~</text>
<text transform="translate(1108.89 661.2) rotate(-90)">50 ~</text>
<text transform="translate(1136.76 661.2) rotate(-90)">55 ~</text>
<text transform="translate(1164.63 661.2) rotate(-90)">60 ~</text>
<text transform="translate(1192.5 661.2) rotate(-90)">65 ~</text>
<text transform="translate(1220.37 661.2) rotate(-90)">70 ~</text>
<text transform="translate(1248.24 661.2) rotate(-90)">75 ~</text>
<text transform="translate(1276.11 661.2) rotate(-90)">80 ~</text>
<text transform="translate(1303.98 661.2) rotate(-90)">85 ~</text>
<text transform="translate(1331.85 661.2) rotate(-90)">90 ~</text>
<text transform="translate(1359.72 661.2) rotate(-90)">95 ~</text>
<text transform="translate(1387.59 661.2) rotate(-90)">100 ~</text>
</g>
<text font-family="'Liberation Sans', sans-serif" font-size="29" fill="#111" x="1422.8" y="705.2">(y)</text>
<text font-family="'Liberation Sans', sans-serif" font-size="45" fill="#111" x="739" y="34">(b)</text>
<text font-family="'Liberation Sans', sans-serif" font-size="44" fill="#111" text-anchor="middle" x="1144.8" y="34.4">Female</text>
<line x1="119.25" y1="1314.46" x2="672.5" y2="1314.46" stroke="#bbb" stroke-width="1.4"/>
<line x1="119.25" y1="1206.62" x2="672.5" y2="1206.62" stroke="#bbb" stroke-width="1.4"/>
<line x1="119.25" y1="1098.78" x2="672.5" y2="1098.78" stroke="#bbb" stroke-width="1.4"/>
<line x1="119.25" y1="990.94" x2="672.5" y2="990.94" stroke="#bbb" stroke-width="1.4"/>
<line x1="119.25" y1="883.1" x2="672.5" y2="883.1" stroke="#bbb" stroke-width="1.4"/>
<line x1="119.25" y1="823.5" x2="119.25" y2="1423" stroke="#aaa" stroke-width="1.5"/>
<g shape-rendering="auto">
<rect x="148.15" y="1406.66" width="25.1" height="15.64" fill="#DC0032"/>
<rect x="148.15" y="1373.77" width="25.1" height="32.89" fill="#F26B2B"/>
<rect x="148.15" y="1357.33" width="25.1" height="16.45" fill="#FFCC00"/>
<rect x="148.15" y="1308.53" width="25.1" height="48.8" fill="#FFFF00"/>
<rect x="148.15" y="1128.44" width="25.1" height="180.09" fill="#2B8A2B"/>
<rect x="148.15" y="883.1" width="25.1" height="245.34" fill="#5596E6"/>
<rect x="175.85" y="1406.66" width="25.1" height="15.64" fill="#DC0032"/>
<rect x="175.85" y="1384.56" width="25.1" height="22.11" fill="#F26B2B"/>
<rect x="175.85" y="1352.2" width="25.1" height="32.35" fill="#FFCC00"/>
<rect x="175.85" y="1275.64" width="25.1" height="76.57" fill="#FFFF00"/>
<rect x="175.85" y="1144.61" width="25.1" height="131.03" fill="#2B8A2B"/>
<rect x="175.85" y="883.1" width="25.1" height="261.51" fill="#5596E6"/>
<rect x="203.55" y="1403.97" width="25.1" height="18.33" fill="#DC0032"/>
<rect x="203.55" y="1366.22" width="25.1" height="37.74" fill="#F26B2B"/>
<rect x="203.55" y="1338.18" width="25.1" height="28.04" fill="#FFCC00"/>
<rect x="203.55" y="1225.49" width="25.1" height="112.69" fill="#FFFF00"/>
<rect x="203.55" y="1032.46" width="25.1" height="193.03" fill="#2B8A2B"/>
<rect x="203.55" y="883.1" width="25.1" height="149.36" fill="#5596E6"/>
<rect x="231.25" y="1385.63" width="25.1" height="36.67" fill="#DC0032"/>
<rect x="231.25" y="1357.33" width="25.1" height="28.31" fill="#F26B2B"/>
<rect x="231.25" y="1313.38" width="25.1" height="43.94" fill="#FFCC00"/>
<rect x="231.25" y="1189.37" width="25.1" height="124.02" fill="#FFFF00"/>
<rect x="231.25" y="1031.92" width="25.1" height="157.45" fill="#2B8A2B"/>
<rect x="231.25" y="883.1" width="25.1" height="148.82" fill="#5596E6"/>
<rect x="258.95" y="1395.34" width="25.1" height="26.96" fill="#DC0032"/>
<rect x="258.95" y="1363.53" width="25.1" height="31.81" fill="#F26B2B"/>
<rect x="258.95" y="1310.69" width="25.1" height="52.84" fill="#FFCC00"/>
<rect x="258.95" y="1143.53" width="25.1" height="167.15" fill="#FFFF00"/>
<rect x="258.95" y="973.15" width="25.1" height="170.39" fill="#2B8A2B"/>
<rect x="258.95" y="883.1" width="25.1" height="90.05" fill="#5596E6"/>
<rect x="286.65" y="1390.49" width="25.1" height="31.81" fill="#DC0032"/>
<rect x="286.65" y="1361.37" width="25.1" height="29.12" fill="#F26B2B"/>
<rect x="286.65" y="1303.68" width="25.1" height="57.69" fill="#FFCC00"/>
<rect x="286.65" y="1082.06" width="25.1" height="221.61" fill="#FFFF00"/>
<rect x="286.65" y="939.72" width="25.1" height="142.35" fill="#2B8A2B"/>
<rect x="286.65" y="883.1" width="25.1" height="56.62" fill="#5596E6"/>
<rect x="314.35" y="1394.26" width="25.1" height="28.04" fill="#DC0032"/>
<rect x="314.35" y="1362.45" width="25.1" height="31.81" fill="#F26B2B"/>
<rect x="314.35" y="1292.35" width="25.1" height="70.1" fill="#FFCC00"/>
<rect x="314.35" y="995.25" width="25.1" height="297.1" fill="#FFFF00"/>
<rect x="314.35" y="904.67" width="25.1" height="90.59" fill="#2B8A2B"/>
<rect x="314.35" y="883.1" width="25.1" height="21.57" fill="#5596E6"/>
<rect x="342.05" y="1401.81" width="25.1" height="20.49" fill="#DC0032"/>
<rect x="342.05" y="1379.7" width="25.1" height="22.11" fill="#F26B2B"/>
<rect x="342.05" y="1313.38" width="25.1" height="66.32" fill="#FFCC00"/>
<rect x="342.05" y="978.54" width="25.1" height="334.84" fill="#FFFF00"/>
<rect x="342.05" y="903.05" width="25.1" height="75.49" fill="#2B8A2B"/>
<rect x="342.05" y="883.1" width="25.1" height="19.95" fill="#5596E6"/>
<rect x="369.75" y="1400.19" width="25.1" height="22.11" fill="#DC0032"/>
<rect x="369.75" y="1373.23" width="25.1" height="26.96" fill="#F26B2B"/>
<rect x="369.75" y="1298.28" width="25.1" height="74.95" fill="#FFCC00"/>
<rect x="369.75" y="963.98" width="25.1" height="334.3" fill="#FFFF00"/>
<rect x="369.75" y="899.28" width="25.1" height="64.7" fill="#2B8A2B"/>
<rect x="369.75" y="883.1" width="25.1" height="16.18" fill="#5596E6"/>
<rect x="397.45" y="1405.58" width="25.1" height="16.72" fill="#DC0032"/>
<rect x="397.45" y="1375.93" width="25.1" height="29.66" fill="#F26B2B"/>
<rect x="397.45" y="1284.26" width="25.1" height="91.66" fill="#FFCC00"/>
<rect x="397.45" y="945.11" width="25.1" height="339.16" fill="#FFFF00"/>
<rect x="397.45" y="893.34" width="25.1" height="51.76" fill="#2B8A2B"/>
<rect x="397.45" y="883.1" width="25.1" height="10.24" fill="#5596E6"/>
<rect x="425.15" y="1408.28" width="25.1" height="14.02" fill="#DC0032"/>
<rect x="425.15" y="1379.7" width="25.1" height="28.58" fill="#F26B2B"/>
<rect x="425.15" y="1276.72" width="25.1" height="102.99" fill="#FFCC00"/>
<rect x="425.15" y="923.54" width="25.1" height="353.18" fill="#FFFF00"/>
<rect x="425.15" y="888.49" width="25.1" height="35.05" fill="#2B8A2B"/>
<rect x="425.15" y="883.1" width="25.1" height="5.39" fill="#5596E6"/>
<rect x="452.85" y="1407.74" width="25.1" height="14.56" fill="#DC0032"/>
<rect x="452.85" y="1378.09" width="25.1" height="29.66" fill="#F26B2B"/>
<rect x="452.85" y="1258.92" width="25.1" height="119.16" fill="#FFCC00"/>
<rect x="452.85" y="911.14" width="25.1" height="347.78" fill="#FFFF00"/>
<rect x="452.85" y="885.8" width="25.1" height="25.34" fill="#2B8A2B"/>
<rect x="452.85" y="883.1" width="25.1" height="2.7" fill="#5596E6"/>
<rect x="480.55" y="1406.66" width="25.1" height="15.64" fill="#DC0032"/>
<rect x="480.55" y="1370" width="25.1" height="36.67" fill="#F26B2B"/>
<rect x="480.55" y="1233.04" width="25.1" height="136.96" fill="#FFCC00"/>
<rect x="480.55" y="905.75" width="25.1" height="327.29" fill="#FFFF00"/>
<rect x="480.55" y="885.26" width="25.1" height="20.49" fill="#2B8A2B"/>
<rect x="480.55" y="883.1" width="25.1" height="2.16" fill="#5596E6"/>
<rect x="508.25" y="1411.52" width="25.1" height="10.78" fill="#DC0032"/>
<rect x="508.25" y="1366.22" width="25.1" height="45.29" fill="#F26B2B"/>
<rect x="508.25" y="1206.08" width="25.1" height="160.14" fill="#FFCC00"/>
<rect x="508.25" y="901.97" width="25.1" height="304.11" fill="#FFFF00"/>
<rect x="508.25" y="884.72" width="25.1" height="17.25" fill="#2B8A2B"/>
<rect x="508.25" y="883.1" width="25.1" height="1.62" fill="#5596E6"/>
<rect x="535.95" y="1409.9" width="25.1" height="12.4" fill="#DC0032"/>
<rect x="535.95" y="1339.26" width="25.1" height="70.64" fill="#F26B2B"/>
<rect x="535.95" y="1166.18" width="25.1" height="173.08" fill="#FFCC00"/>
<rect x="535.95" y="904.13" width="25.1" height="262.05" fill="#FFFF00"/>
<rect x="535.95" y="885.26" width="25.1" height="18.87" fill="#2B8A2B"/>
<rect x="535.95" y="883.1" width="25.1" height="2.16" fill="#5596E6"/>
<rect x="563.65" y="1409.36" width="25.1" height="12.94" fill="#DC0032"/>
<rect x="563.65" y="1323.63" width="25.1" height="85.73" fill="#F26B2B"/>
<rect x="563.65" y="1118.73" width="25.1" height="204.9" fill="#FFCC00"/>
<rect x="563.65" y="893.34" width="25.1" height="225.39" fill="#FFFF00"/>
<rect x="563.65" y="883.1" width="25.1" height="10.24" fill="#2B8A2B"/>
<rect x="591.35" y="1409.9" width="25.1" height="12.4" fill="#DC0032"/>
<rect x="591.35" y="1322.01" width="25.1" height="87.89" fill="#F26B2B"/>
<rect x="591.35" y="1146.77" width="25.1" height="175.24" fill="#FFCC00"/>
<rect x="591.35" y="920.84" width="25.1" height="225.92" fill="#FFFF00"/>
<rect x="591.35" y="883.1" width="25.1" height="37.74" fill="#2B8A2B"/>
<rect x="619.05" y="883.1" width="25.1" height="539.2" fill="#FFFF00"/>
</g>
<g stroke="#000" stroke-opacity="0.2" stroke-width="1" fill="none">
<path d="M148.65 1422.3V883.1M172.75 1422.3V883.1"/>
<path d="M176.35 1422.3V883.1M200.45 1422.3V883.1"/>
<path d="M204.05 1422.3V883.1M228.15 1422.3V883.1"/>
<path d="M231.75 1422.3V883.1M255.85 1422.3V883.1"/>
<path d="M259.45 1422.3V883.1M283.55 1422.3V883.1"/>
<path d="M287.15 1422.3V883.1M311.25 1422.3V883.1"/>
<path d="M314.85 1422.3V883.1M338.95 1422.3V883.1"/>
<path d="M342.55 1422.3V883.1M366.65 1422.3V883.1"/>
<path d="M370.25 1422.3V883.1M394.35 1422.3V883.1"/>
<path d="M397.95 1422.3V883.1M422.05 1422.3V883.1"/>
<path d="M425.65 1422.3V883.1M449.75 1422.3V883.1"/>
<path d="M453.35 1422.3V883.1M477.45 1422.3V883.1"/>
<path d="M481.05 1422.3V883.1M505.15 1422.3V883.1"/>
<path d="M508.75 1422.3V883.1M532.85 1422.3V883.1"/>
<path d="M536.45 1422.3V883.1M560.55 1422.3V883.1"/>
<path d="M564.15 1422.3V883.1M588.25 1422.3V883.1"/>
<path d="M591.85 1422.3V883.1M615.95 1422.3V883.1"/>
<path d="M619.55 1422.3V883.1M643.65 1422.3V883.1"/>
</g>
<g stroke="#14142a" stroke-opacity="0.3" stroke-width="1.2" fill="none">
<path d="M147.55 1422.3V882.5M173.85 1422.3V882.5"/>
<path d="M175.25 1422.3V882.5M201.55 1422.3V882.5"/>
<path d="M202.95 1422.3V882.5M229.25 1422.3V882.5"/>
<path d="M230.65 1422.3V882.5M256.95 1422.3V882.5"/>
<path d="M258.35 1422.3V882.5M284.65 1422.3V882.5"/>
<path d="M286.05 1422.3V882.5M312.35 1422.3V882.5"/>
<path d="M313.75 1422.3V882.5M340.05 1422.3V882.5"/>
<path d="M341.45 1422.3V882.5M367.75 1422.3V882.5"/>
<path d="M369.15 1422.3V882.5M395.45 1422.3V882.5"/>
<path d="M396.85 1422.3V882.5M423.15 1422.3V882.5"/>
<path d="M424.55 1422.3V882.5M450.85 1422.3V882.5"/>
<path d="M452.25 1422.3V882.5M478.55 1422.3V882.5"/>
<path d="M479.95 1422.3V882.5M506.25 1422.3V882.5"/>
<path d="M507.65 1422.3V882.5M533.95 1422.3V882.5"/>
<path d="M535.35 1422.3V882.5M561.65 1422.3V882.5"/>
<path d="M563.05 1422.3V882.5M589.35 1422.3V882.5"/>
<path d="M590.75 1422.3V882.5M617.05 1422.3V882.5"/>
<path d="M618.45 1422.3V882.5M644.75 1422.3V882.5"/>
</g>
<g stroke="#000" stroke-opacity="0.62" stroke-width="1.5" fill="none">
<path d="M148.15 1406.66h25.1"/>
<path d="M148.15 1373.77h25.1"/>
<path d="M148.15 1357.33h25.1"/>
<path d="M148.15 1308.53h25.1"/>
<path d="M148.15 1128.44h25.1"/>
<path d="M148.15 883.1h25.1"/>
<path d="M175.85 1406.66h25.1"/>
<path d="M175.85 1384.56h25.1"/>
<path d="M175.85 1352.2h25.1"/>
<path d="M175.85 1275.64h25.1"/>
<path d="M175.85 1144.61h25.1"/>
<path d="M175.85 883.1h25.1"/>
<path d="M203.55 1403.97h25.1"/>
<path d="M203.55 1366.22h25.1"/>
<path d="M203.55 1338.18h25.1"/>
<path d="M203.55 1225.49h25.1"/>
<path d="M203.55 1032.46h25.1"/>
<path d="M203.55 883.1h25.1"/>
<path d="M231.25 1385.63h25.1"/>
<path d="M231.25 1357.33h25.1"/>
<path d="M231.25 1313.38h25.1"/>
<path d="M231.25 1189.37h25.1"/>
<path d="M231.25 1031.92h25.1"/>
<path d="M231.25 883.1h25.1"/>
<path d="M258.95 1395.34h25.1"/>
<path d="M258.95 1363.53h25.1"/>
<path d="M258.95 1310.69h25.1"/>
<path d="M258.95 1143.53h25.1"/>
<path d="M258.95 973.15h25.1"/>
<path d="M258.95 883.1h25.1"/>
<path d="M286.65 1390.49h25.1"/>
<path d="M286.65 1361.37h25.1"/>
<path d="M286.65 1303.68h25.1"/>
<path d="M286.65 1082.06h25.1"/>
<path d="M286.65 939.72h25.1"/>
<path d="M286.65 883.1h25.1"/>
<path d="M314.35 1394.26h25.1"/>
<path d="M314.35 1362.45h25.1"/>
<path d="M314.35 1292.35h25.1"/>
<path d="M314.35 995.25h25.1"/>
<path d="M314.35 904.67h25.1"/>
<path d="M314.35 883.1h25.1"/>
<path d="M342.05 1401.81h25.1"/>
<path d="M342.05 1379.7h25.1"/>
<path d="M342.05 1313.38h25.1"/>
<path d="M342.05 978.54h25.1"/>
<path d="M342.05 903.05h25.1"/>
<path d="M342.05 883.1h25.1"/>
<path d="M369.75 1400.19h25.1"/>
<path d="M369.75 1373.23h25.1"/>
<path d="M369.75 1298.28h25.1"/>
<path d="M369.75 963.98h25.1"/>
<path d="M369.75 899.28h25.1"/>
<path d="M369.75 883.1h25.1"/>
<path d="M397.45 1405.58h25.1"/>
<path d="M397.45 1375.93h25.1"/>
<path d="M397.45 1284.26h25.1"/>
<path d="M397.45 945.11h25.1"/>
<path d="M397.45 893.34h25.1"/>
<path d="M397.45 883.1h25.1"/>
<path d="M425.15 1408.28h25.1"/>
<path d="M425.15 1379.7h25.1"/>
<path d="M425.15 1276.72h25.1"/>
<path d="M425.15 923.54h25.1"/>
<path d="M425.15 888.49h25.1"/>
<path d="M425.15 883.1h25.1"/>
<path d="M452.85 1407.74h25.1"/>
<path d="M452.85 1378.09h25.1"/>
<path d="M452.85 1258.92h25.1"/>
<path d="M452.85 911.14h25.1"/>
<path d="M452.85 885.8h25.1"/>
<path d="M452.85 883.1h25.1"/>
<path d="M480.55 1406.66h25.1"/>
<path d="M480.55 1370h25.1"/>
<path d="M480.55 1233.04h25.1"/>
<path d="M480.55 905.75h25.1"/>
<path d="M480.55 885.26h25.1"/>
<path d="M480.55 883.1h25.1"/>
<path d="M508.25 1411.52h25.1"/>
<path d="M508.25 1366.22h25.1"/>
<path d="M508.25 1206.08h25.1"/>
<path d="M508.25 901.97h25.1"/>
<path d="M508.25 884.72h25.1"/>
<path d="M508.25 883.1h25.1"/>
<path d="M535.95 1409.9h25.1"/>
<path d="M535.95 1339.26h25.1"/>
<path d="M535.95 1166.18h25.1"/>
<path d="M535.95 904.13h25.1"/>
<path d="M535.95 885.26h25.1"/>
<path d="M535.95 883.1h25.1"/>
<path d="M563.65 1409.36h25.1"/>
<path d="M563.65 1323.63h25.1"/>
<path d="M563.65 1118.73h25.1"/>
<path d="M563.65 893.34h25.1"/>
<path d="M563.65 883.1h25.1"/>
<path d="M591.35 1409.9h25.1"/>
<path d="M591.35 1322.01h25.1"/>
<path d="M591.35 1146.77h25.1"/>
<path d="M591.35 920.84h25.1"/>
<path d="M591.35 883.1h25.1"/>
<path d="M619.05 883.1h25.1"/>
</g>
<line x1="118.55" y1="1422.3" x2="672.5" y2="1422.3" stroke="#555" stroke-width="1.5"/>
<g font-family="'Liberation Sans', sans-serif" font-size="28" fill="#111" text-anchor="end">
<text x="102.75" y="1428">0%</text>
<text x="102.75" y="1321">20%</text>
<text x="102.75" y="1214">40%</text>
<text x="102.75" y="1107">60%</text>
<text x="102.75" y="1000">80%</text>
<text x="102.75" y="893">100%</text>
</g>
<g font-family="'Liberation Sans', sans-serif" font-size="27.5" fill="#111" text-anchor="end" word-spacing="-1.6">
<text transform="translate(164.8 1430.2) rotate(-90)">18 ~</text>
<text transform="translate(192.69 1430.2) rotate(-90)">20 ~</text>
<text transform="translate(220.58 1430.2) rotate(-90)">25 ~</text>
<text transform="translate(248.47 1430.2) rotate(-90)">30 ~</text>
<text transform="translate(276.36 1430.2) rotate(-90)">35 ~</text>
<text transform="translate(304.25 1430.2) rotate(-90)">40 ~</text>
<text transform="translate(332.14 1430.2) rotate(-90)">45 ~</text>
<text transform="translate(360.03 1430.2) rotate(-90)">50 ~</text>
<text transform="translate(387.92 1430.2) rotate(-90)">55 ~</text>
<text transform="translate(415.81 1430.2) rotate(-90)">60 ~</text>
<text transform="translate(443.7 1430.2) rotate(-90)">65 ~</text>
<text transform="translate(471.59 1430.2) rotate(-90)">70 ~</text>
<text transform="translate(499.48 1430.2) rotate(-90)">75 ~</text>
<text transform="translate(527.37 1430.2) rotate(-90)">80 ~</text>
<text transform="translate(555.26 1430.2) rotate(-90)">85 ~</text>
<text transform="translate(583.15 1430.2) rotate(-90)">90 ~</text>
<text transform="translate(611.04 1430.2) rotate(-90)">95 ~</text>
<text transform="translate(638.93 1430.2) rotate(-90)">100 ~</text>
</g>
<text font-family="'Liberation Sans', sans-serif" font-size="29" fill="#111" x="676.1" y="1471.2">(y)</text>
<text font-family="'Liberation Sans', sans-serif" font-size="45" fill="#111" x="-1.3" y="801.8">(c)</text>
<text font-family="'Liberation Sans', sans-serif" font-size="44" fill="#111" text-anchor="middle" x="391.4" y="802.2">Male</text>
<line x1="863.8" y1="1314.46" x2="1417" y2="1314.46" stroke="#bbb" stroke-width="1.4"/>
<line x1="863.8" y1="1206.62" x2="1417" y2="1206.62" stroke="#bbb" stroke-width="1.4"/>
<line x1="863.8" y1="1098.78" x2="1417" y2="1098.78" stroke="#bbb" stroke-width="1.4"/>
<line x1="863.8" y1="990.94" x2="1417" y2="990.94" stroke="#bbb" stroke-width="1.4"/>
<line x1="863.8" y1="883.1" x2="1417" y2="883.1" stroke="#bbb" stroke-width="1.4"/>
<line x1="863.8" y1="823.5" x2="863.8" y2="1423" stroke="#aaa" stroke-width="1.5"/>
<g shape-rendering="auto">
<rect x="892.2" y="1405.05" width="25.1" height="17.25" fill="#DC0032"/>
<rect x="892.2" y="1386.17" width="25.1" height="18.87" fill="#FFCC00"/>
<rect x="892.2" y="1332.79" width="25.1" height="53.38" fill="#FFFF00"/>
<rect x="892.2" y="1296.13" width="25.1" height="36.67" fill="#2B8A2B"/>
<rect x="892.2" y="883.1" width="25.1" height="413.03" fill="#5596E6"/>
<rect x="919.92" y="1418.53" width="25.1" height="3.77" fill="#DC0032"/>
<rect x="919.92" y="1414.75" width="25.1" height="3.77" fill="#F26B2B"/>
<rect x="919.92" y="1398.58" width="25.1" height="16.18" fill="#FFCC00"/>
<rect x="919.92" y="1346.27" width="25.1" height="52.3" fill="#FFFF00"/>
<rect x="919.92" y="1247.06" width="25.1" height="99.21" fill="#2B8A2B"/>
<rect x="919.92" y="883.1" width="25.1" height="363.96" fill="#5596E6"/>
<rect x="947.64" y="1410.98" width="25.1" height="11.32" fill="#DC0032"/>
<rect x="947.64" y="1403.97" width="25.1" height="7.01" fill="#F26B2B"/>
<rect x="947.64" y="1337.92" width="25.1" height="66.05" fill="#FFCC00"/>
<rect x="947.64" y="1283.19" width="25.1" height="54.73" fill="#FFFF00"/>
<rect x="947.64" y="1154.32" width="25.1" height="128.87" fill="#2B8A2B"/>
<rect x="947.64" y="883.1" width="25.1" height="271.22" fill="#5596E6"/>
<rect x="975.36" y="1412.06" width="25.1" height="10.24" fill="#DC0032"/>
<rect x="975.36" y="1373.77" width="25.1" height="38.28" fill="#F26B2B"/>
<rect x="975.36" y="1324.17" width="25.1" height="49.61" fill="#FFCC00"/>
<rect x="975.36" y="1204.46" width="25.1" height="119.7" fill="#FFFF00"/>
<rect x="975.36" y="1064.81" width="25.1" height="139.65" fill="#2B8A2B"/>
<rect x="975.36" y="883.1" width="25.1" height="181.71" fill="#5596E6"/>
<rect x="1003.08" y="1405.05" width="25.1" height="17.25" fill="#DC0032"/>
<rect x="1003.08" y="1370" width="25.1" height="35.05" fill="#F26B2B"/>
<rect x="1003.08" y="1319.85" width="25.1" height="50.15" fill="#FFCC00"/>
<rect x="1003.08" y="1155.94" width="25.1" height="163.92" fill="#FFFF00"/>
<rect x="1003.08" y="993.1" width="25.1" height="162.84" fill="#2B8A2B"/>
<rect x="1003.08" y="883.1" width="25.1" height="110" fill="#5596E6"/>
<rect x="1030.8" y="1394.8" width="25.1" height="27.5" fill="#DC0032"/>
<rect x="1030.8" y="1360.29" width="25.1" height="34.51" fill="#F26B2B"/>
<rect x="1030.8" y="1299.63" width="25.1" height="60.66" fill="#FFCC00"/>
<rect x="1030.8" y="1063.73" width="25.1" height="235.9" fill="#FFFF00"/>
<rect x="1030.8" y="945.65" width="25.1" height="118.08" fill="#2B8A2B"/>
<rect x="1030.8" y="883.1" width="25.1" height="62.55" fill="#5596E6"/>
<rect x="1058.52" y="1401.81" width="25.1" height="20.49" fill="#DC0032"/>
<rect x="1058.52" y="1366.22" width="25.1" height="35.59" fill="#F26B2B"/>
<rect x="1058.52" y="1295.86" width="25.1" height="70.37" fill="#FFCC00"/>
<rect x="1058.52" y="1011.43" width="25.1" height="284.43" fill="#FFFF00"/>
<rect x="1058.52" y="924.62" width="25.1" height="86.81" fill="#2B8A2B"/>
<rect x="1058.52" y="883.1" width="25.1" height="41.52" fill="#5596E6"/>
<rect x="1086.24" y="1406.12" width="25.1" height="16.18" fill="#DC0032"/>
<rect x="1086.24" y="1375.93" width="25.1" height="30.2" fill="#F26B2B"/>
<rect x="1086.24" y="1314.19" width="25.1" height="61.74" fill="#FFCC00"/>
<rect x="1086.24" y="956.97" width="25.1" height="357.22" fill="#FFFF00"/>
<rect x="1086.24" y="900.35" width="25.1" height="56.62" fill="#2B8A2B"/>
<rect x="1086.24" y="883.1" width="25.1" height="17.25" fill="#5596E6"/>
<rect x="1113.96" y="1401.81" width="25.1" height="20.49" fill="#DC0032"/>
<rect x="1113.96" y="1372.69" width="25.1" height="29.12" fill="#F26B2B"/>
<rect x="1113.96" y="1295.59" width="25.1" height="77.11" fill="#FFCC00"/>
<rect x="1113.96" y="929.47" width="25.1" height="366.12" fill="#FFFF00"/>
<rect x="1113.96" y="893.88" width="25.1" height="35.59" fill="#2B8A2B"/>
<rect x="1113.96" y="883.1" width="25.1" height="10.78" fill="#5596E6"/>
<rect x="1141.68" y="1405.05" width="25.1" height="17.25" fill="#DC0032"/>
<rect x="1141.68" y="1375.93" width="25.1" height="29.12" fill="#F26B2B"/>
<rect x="1141.68" y="1292.35" width="25.1" height="83.58" fill="#FFCC00"/>
<rect x="1141.68" y="924.62" width="25.1" height="367.73" fill="#FFFF00"/>
<rect x="1141.68" y="891.19" width="25.1" height="33.43" fill="#2B8A2B"/>
<rect x="1141.68" y="883.1" width="25.1" height="8.09" fill="#5596E6"/>
<rect x="1169.4" y="1406.12" width="25.1" height="16.18" fill="#DC0032"/>
<rect x="1169.4" y="1379.7" width="25.1" height="26.42" fill="#F26B2B"/>
<rect x="1169.4" y="1282.65" width="25.1" height="97.06" fill="#FFCC00"/>
<rect x="1169.4" y="911.68" width="25.1" height="370.97" fill="#FFFF00"/>
<rect x="1169.4" y="886.87" width="25.1" height="24.8" fill="#2B8A2B"/>
<rect x="1169.4" y="883.1" width="25.1" height="3.77" fill="#5596E6"/>
<rect x="1197.12" y="1411.52" width="25.1" height="10.78" fill="#DC0032"/>
<rect x="1197.12" y="1378.09" width="25.1" height="33.43" fill="#F26B2B"/>
<rect x="1197.12" y="1264.85" width="25.1" height="113.23" fill="#FFCC00"/>
<rect x="1197.12" y="904.13" width="25.1" height="360.72" fill="#FFFF00"/>
<rect x="1197.12" y="886.87" width="25.1" height="17.25" fill="#2B8A2B"/>
<rect x="1197.12" y="883.1" width="25.1" height="3.77" fill="#5596E6"/>
<rect x="1224.84" y="1411.52" width="25.1" height="10.78" fill="#DC0032"/>
<rect x="1224.84" y="1374.85" width="25.1" height="36.67" fill="#F26B2B"/>
<rect x="1224.84" y="1238.97" width="25.1" height="135.88" fill="#FFCC00"/>
<rect x="1224.84" y="898.2" width="25.1" height="340.77" fill="#FFFF00"/>
<rect x="1224.84" y="886.34" width="25.1" height="11.86" fill="#2B8A2B"/>
<rect x="1224.84" y="883.1" width="25.1" height="3.24" fill="#5596E6"/>
<rect x="1252.56" y="1411.52" width="25.1" height="10.78" fill="#DC0032"/>
<rect x="1252.56" y="1359.48" width="25.1" height="52.03" fill="#F26B2B"/>
<rect x="1252.56" y="1210.39" width="25.1" height="149.09" fill="#FFCC00"/>
<rect x="1252.56" y="897.12" width="25.1" height="313.28" fill="#FFFF00"/>
<rect x="1252.56" y="884.72" width="25.1" height="12.4" fill="#2B8A2B"/>
<rect x="1252.56" y="883.1" width="25.1" height="1.62" fill="#5596E6"/>
<rect x="1280.28" y="1411.52" width="25.1" height="10.78" fill="#DC0032"/>
<rect x="1280.28" y="1337.65" width="25.1" height="73.87" fill="#F26B2B"/>
<rect x="1280.28" y="1152.7" width="25.1" height="184.95" fill="#FFCC00"/>
<rect x="1280.28" y="892.27" width="25.1" height="260.43" fill="#FFFF00"/>
<rect x="1280.28" y="883.64" width="25.1" height="8.63" fill="#2B8A2B"/>
<rect x="1280.28" y="883.1" width="25.1" height="0.54" fill="#5596E6"/>
<rect x="1308" y="1415.29" width="25.1" height="7.01" fill="#DC0032"/>
<rect x="1308" y="1326.86" width="25.1" height="88.43" fill="#F26B2B"/>
<rect x="1308" y="1130.05" width="25.1" height="196.81" fill="#FFCC00"/>
<rect x="1308" y="902.51" width="25.1" height="227.54" fill="#FFFF00"/>
<rect x="1308" y="887.68" width="25.1" height="14.83" fill="#2B8A2B"/>
<rect x="1308" y="883.1" width="25.1" height="4.58" fill="#5596E6"/>
<rect x="1335.72" y="1394.26" width="25.1" height="28.04" fill="#DC0032"/>
<rect x="1335.72" y="1292.08" width="25.1" height="102.18" fill="#F26B2B"/>
<rect x="1335.72" y="1097.16" width="25.1" height="194.92" fill="#FFCC00"/>
<rect x="1335.72" y="901.97" width="25.1" height="195.19" fill="#FFFF00"/>
<rect x="1335.72" y="883.1" width="25.1" height="18.87" fill="#2B8A2B"/>
<rect x="1363.44" y="1122.5" width="25.1" height="299.8" fill="#FFCC00"/>
<rect x="1363.44" y="942.95" width="25.1" height="179.55" fill="#FFFF00"/>
<rect x="1363.44" y="883.1" width="25.1" height="59.85" fill="#2B8A2B"/>
</g>
<g stroke="#000" stroke-opacity="0.2" stroke-width="1" fill="none">
<path d="M892.7 1422.3V883.1M916.8 1422.3V883.1"/>
<path d="M920.42 1422.3V883.1M944.52 1422.3V883.1"/>
<path d="M948.14 1422.3V883.1M972.24 1422.3V883.1"/>
<path d="M975.86 1422.3V883.1M999.96 1422.3V883.1"/>
<path d="M1003.58 1422.3V883.1M1027.68 1422.3V883.1"/>
<path d="M1031.3 1422.3V883.1M1055.4 1422.3V883.1"/>
<path d="M1059.02 1422.3V883.1M1083.12 1422.3V883.1"/>
<path d="M1086.74 1422.3V883.1M1110.84 1422.3V883.1"/>
<path d="M1114.46 1422.3V883.1M1138.56 1422.3V883.1"/>
<path d="M1142.18 1422.3V883.1M1166.28 1422.3V883.1"/>
<path d="M1169.9 1422.3V883.1M1194 1422.3V883.1"/>
<path d="M1197.62 1422.3V883.1M1221.72 1422.3V883.1"/>
<path d="M1225.34 1422.3V883.1M1249.44 1422.3V883.1"/>
<path d="M1253.06 1422.3V883.1M1277.16 1422.3V883.1"/>
<path d="M1280.78 1422.3V883.1M1304.88 1422.3V883.1"/>
<path d="M1308.5 1422.3V883.1M1332.6 1422.3V883.1"/>
<path d="M1336.22 1422.3V883.1M1360.32 1422.3V883.1"/>
<path d="M1363.94 1422.3V883.1M1388.04 1422.3V883.1"/>
</g>
<g stroke="#14142a" stroke-opacity="0.3" stroke-width="1.2" fill="none">
<path d="M891.6 1422.3V882.5M917.9 1422.3V882.5"/>
<path d="M919.32 1422.3V882.5M945.62 1422.3V882.5"/>
<path d="M947.04 1422.3V882.5M973.34 1422.3V882.5"/>
<path d="M974.76 1422.3V882.5M1001.06 1422.3V882.5"/>
<path d="M1002.48 1422.3V882.5M1028.78 1422.3V882.5"/>
<path d="M1030.2 1422.3V882.5M1056.5 1422.3V882.5"/>
<path d="M1057.92 1422.3V882.5M1084.22 1422.3V882.5"/>
<path d="M1085.64 1422.3V882.5M1111.94 1422.3V882.5"/>
<path d="M1113.36 1422.3V882.5M1139.66 1422.3V882.5"/>
<path d="M1141.08 1422.3V882.5M1167.38 1422.3V882.5"/>
<path d="M1168.8 1422.3V882.5M1195.1 1422.3V882.5"/>
<path d="M1196.52 1422.3V882.5M1222.82 1422.3V882.5"/>
<path d="M1224.24 1422.3V882.5M1250.54 1422.3V882.5"/>
<path d="M1251.96 1422.3V882.5M1278.26 1422.3V882.5"/>
<path d="M1279.68 1422.3V882.5M1305.98 1422.3V882.5"/>
<path d="M1307.4 1422.3V882.5M1333.7 1422.3V882.5"/>
<path d="M1335.12 1422.3V882.5M1361.42 1422.3V882.5"/>
<path d="M1362.84 1422.3V882.5M1389.14 1422.3V882.5"/>
</g>
<g stroke="#000" stroke-opacity="0.62" stroke-width="1.5" fill="none">
<path d="M892.2 1405.05h25.1"/>
<path d="M892.2 1386.17h25.1"/>
<path d="M892.2 1332.79h25.1"/>
<path d="M892.2 1296.13h25.1"/>
<path d="M892.2 883.1h25.1"/>
<path d="M919.92 1418.53h25.1"/>
<path d="M919.92 1414.75h25.1"/>
<path d="M919.92 1398.58h25.1"/>
<path d="M919.92 1346.27h25.1"/>
<path d="M919.92 1247.06h25.1"/>
<path d="M919.92 883.1h25.1"/>
<path d="M947.64 1410.98h25.1"/>
<path d="M947.64 1403.97h25.1"/>
<path d="M947.64 1337.92h25.1"/>
<path d="M947.64 1283.19h25.1"/>
<path d="M947.64 1154.32h25.1"/>
<path d="M947.64 883.1h25.1"/>
<path d="M975.36 1412.06h25.1"/>
<path d="M975.36 1373.77h25.1"/>
<path d="M975.36 1324.17h25.1"/>
<path d="M975.36 1204.46h25.1"/>
<path d="M975.36 1064.81h25.1"/>
<path d="M975.36 883.1h25.1"/>
<path d="M1003.08 1405.05h25.1"/>
<path d="M1003.08 1370h25.1"/>
<path d="M1003.08 1319.85h25.1"/>
<path d="M1003.08 1155.94h25.1"/>
<path d="M1003.08 993.1h25.1"/>
<path d="M1003.08 883.1h25.1"/>
<path d="M1030.8 1394.8h25.1"/>
<path d="M1030.8 1360.29h25.1"/>
<path d="M1030.8 1299.63h25.1"/>
<path d="M1030.8 1063.73h25.1"/>
<path d="M1030.8 945.65h25.1"/>
<path d="M1030.8 883.1h25.1"/>
<path d="M1058.52 1401.81h25.1"/>
<path d="M1058.52 1366.22h25.1"/>
<path d="M1058.52 1295.86h25.1"/>
<path d="M1058.52 1011.43h25.1"/>
<path d="M1058.52 924.62h25.1"/>
<path d="M1058.52 883.1h25.1"/>
<path d="M1086.24 1406.12h25.1"/>
<path d="M1086.24 1375.93h25.1"/>
<path d="M1086.24 1314.19h25.1"/>
<path d="M1086.24 956.97h25.1"/>
<path d="M1086.24 900.35h25.1"/>
<path d="M1086.24 883.1h25.1"/>
<path d="M1113.96 1401.81h25.1"/>
<path d="M1113.96 1372.69h25.1"/>
<path d="M1113.96 1295.59h25.1"/>
<path d="M1113.96 929.47h25.1"/>
<path d="M1113.96 893.88h25.1"/>
<path d="M1113.96 883.1h25.1"/>
<path d="M1141.68 1405.05h25.1"/>
<path d="M1141.68 1375.93h25.1"/>
<path d="M1141.68 1292.35h25.1"/>
<path d="M1141.68 924.62h25.1"/>
<path d="M1141.68 891.19h25.1"/>
<path d="M1141.68 883.1h25.1"/>
<path d="M1169.4 1406.12h25.1"/>
<path d="M1169.4 1379.7h25.1"/>
<path d="M1169.4 1282.65h25.1"/>
<path d="M1169.4 911.68h25.1"/>
<path d="M1169.4 886.87h25.1"/>
<path d="M1169.4 883.1h25.1"/>
<path d="M1197.12 1411.52h25.1"/>
<path d="M1197.12 1378.09h25.1"/>
<path d="M1197.12 1264.85h25.1"/>
<path d="M1197.12 904.13h25.1"/>
<path d="M1197.12 886.87h25.1"/>
<path d="M1197.12 883.1h25.1"/>
<path d="M1224.84 1411.52h25.1"/>
<path d="M1224.84 1374.85h25.1"/>
<path d="M1224.84 1238.97h25.1"/>
<path d="M1224.84 898.2h25.1"/>
<path d="M1224.84 886.34h25.1"/>
<path d="M1224.84 883.1h25.1"/>
<path d="M1252.56 1411.52h25.1"/>
<path d="M1252.56 1359.48h25.1"/>
<path d="M1252.56 1210.39h25.1"/>
<path d="M1252.56 897.12h25.1"/>
<path d="M1252.56 884.72h25.1"/>
<path d="M1252.56 883.1h25.1"/>
<path d="M1280.28 1411.52h25.1"/>
<path d="M1280.28 1337.65h25.1"/>
<path d="M1280.28 1152.7h25.1"/>
<path d="M1280.28 892.27h25.1"/>
<path d="M1280.28 883.64h25.1"/>
<path d="M1280.28 883.1h25.1"/>
<path d="M1308 1415.29h25.1"/>
<path d="M1308 1326.86h25.1"/>
<path d="M1308 1130.05h25.1"/>
<path d="M1308 902.51h25.1"/>
<path d="M1308 887.68h25.1"/>
<path d="M1308 883.1h25.1"/>
<path d="M1335.72 1394.26h25.1"/>
<path d="M1335.72 1292.08h25.1"/>
<path d="M1335.72 1097.16h25.1"/>
<path d="M1335.72 901.97h25.1"/>
<path d="M1335.72 883.1h25.1"/>
<path d="M1363.44 1122.5h25.1"/>
<path d="M1363.44 942.95h25.1"/>
<path d="M1363.44 883.1h25.1"/>
</g>
<line x1="863.1" y1="1422.3" x2="1417" y2="1422.3" stroke="#555" stroke-width="1.5"/>
<g font-family="'Liberation Sans', sans-serif" font-size="28" fill="#111" text-anchor="end">
<text x="850.6" y="1428">0%</text>
<text x="850.6" y="1321">20%</text>
<text x="850.6" y="1214">40%</text>
<text x="850.6" y="1107">60%</text>
<text x="850.6" y="1000">80%</text>
<text x="850.6" y="893">100%</text>
</g>
<g font-family="'Liberation Sans', sans-serif" font-size="27.5" fill="#111" text-anchor="end" word-spacing="-1.6">
<text transform="translate(912.8 1430.2) rotate(-90)">18 ~</text>
<text transform="translate(940.67 1430.2) rotate(-90)">20 ~</text>
<text transform="translate(968.54 1430.2) rotate(-90)">25 ~</text>
<text transform="translate(996.41 1430.2) rotate(-90)">30 ~</text>
<text transform="translate(1024.28 1430.2) rotate(-90)">35 ~</text>
<text transform="translate(1052.15 1430.2) rotate(-90)">40 ~</text>
<text transform="translate(1080.02 1430.2) rotate(-90)">45 ~</text>
<text transform="translate(1107.89 1430.2) rotate(-90)">50 ~</text>
<text transform="translate(1135.76 1430.2) rotate(-90)">55 ~</text>
<text transform="translate(1163.63 1430.2) rotate(-90)">60 ~</text>
<text transform="translate(1191.5 1430.2) rotate(-90)">65 ~</text>
<text transform="translate(1219.37 1430.2) rotate(-90)">70 ~</text>
<text transform="translate(1247.24 1430.2) rotate(-90)">75 ~</text>
<text transform="translate(1275.11 1430.2) rotate(-90)">80 ~</text>
<text transform="translate(1302.98 1430.2) rotate(-90)">85 ~</text>
<text transform="translate(1330.85 1430.2) rotate(-90)">90 ~</text>
<text transform="translate(1358.72 1430.2) rotate(-90)">95 ~</text>
<text transform="translate(1386.59 1430.2) rotate(-90)">100 ~</text>
</g>
<text font-family="'Liberation Sans', sans-serif" font-size="29" fill="#111" x="1421.8" y="1471.2">(y)</text>
<text font-family="'Liberation Sans', sans-serif" font-size="45" fill="#111" x="738.4" y="801.8">(d)</text>
<text font-family="'Liberation Sans', sans-serif" font-size="44" fill="#111" text-anchor="middle" x="1144.8" y="802.2">Female</text>
<text font-family="'Liberation Sans', sans-serif" font-size="31" fill="#111" x="1453.4" y="114.6">CKD G grade</text>
<rect x="1463.25" y="129.65" width="35" height="35" fill="#5596E6" stroke="#111" stroke-width="2.5" stroke-linejoin="round"/>
<text font-family="'Liberation Sans', sans-serif" font-size="31.3" fill="#111" x="1511.5" y="160.7">G1</text>
<rect x="1463.25" y="175.95" width="35" height="35" fill="#2B8A2B" stroke="#111" stroke-width="2.5" stroke-linejoin="round"/>
<text font-family="'Liberation Sans', sans-serif" font-size="31.3" fill="#111" x="1511.5" y="207">G2</text>
<rect x="1463.25" y="222.25" width="35" height="35" fill="#FFFF00" stroke="#111" stroke-width="2.5" stroke-linejoin="round"/>
<text font-family="'Liberation Sans', sans-serif" font-size="31.3" fill="#111" x="1511.5" y="253.3">G3a</text>
<rect x="1463.25" y="268.55" width="35" height="35" fill="#FFCC00" stroke="#111" stroke-width="2.5" stroke-linejoin="round"/>
<text font-family="'Liberation Sans', sans-serif" font-size="31.3" fill="#111" x="1511.5" y="299.6">G3b</text>
<rect x="1463.25" y="314.85" width="35" height="35" fill="#F47B45" stroke="#111" stroke-width="2.5" stroke-linejoin="round"/>
<text font-family="'Liberation Sans', sans-serif" font-size="31.3" fill="#111" x="1511.5" y="345.9">G4</text>
<rect x="1463.25" y="361.15" width="35" height="35" fill="#FF0000" stroke="#111" stroke-width="2.5" stroke-linejoin="round"/>
<text font-family="'Liberation Sans', sans-serif" font-size="31.3" fill="#111" x="1511.5" y="392.2">G5</text>
<text font-family="'Liberation Sans', sans-serif" font-size="31" fill="#111" x="1452.5" y="874.6">CKD G grade</text>
<rect x="1462.35" y="890.15" width="35" height="35" fill="#5596E6" stroke="#111" stroke-width="2.5" stroke-linejoin="round"/>
<text font-family="'Liberation Sans', sans-serif" font-size="31.3" fill="#111" x="1510.6" y="921.2">G1</text>
<rect x="1462.35" y="936.45" width="35" height="35" fill="#2B8A2B" stroke="#111" stroke-width="2.5" stroke-linejoin="round"/>
<text font-family="'Liberation Sans', sans-serif" font-size="31.3" fill="#111" x="1510.6" y="967.5">G2</text>
<rect x="1462.35" y="982.75" width="35" height="35" fill="#FFFF00" stroke="#111" stroke-width="2.5" stroke-linejoin="round"/>
<text font-family="'Liberation Sans', sans-serif" font-size="31.3" fill="#111" x="1510.6" y="1013.8">G3a</text>
<rect x="1462.35" y="1029.05" width="35" height="35" fill="#FFCC00" stroke="#111" stroke-width="2.5" stroke-linejoin="round"/>
<text font-family="'Liberation Sans', sans-serif" font-size="31.3" fill="#111" x="1510.6" y="1060.1">G3b</text>
<rect x="1462.35" y="1075.35" width="35" height="35" fill="#F47B45" stroke="#111" stroke-width="2.5" stroke-linejoin="round"/>
<text font-family="'Liberation Sans', sans-serif" font-size="31.3" fill="#111" x="1510.6" y="1106.4">G4</text>
<rect x="1462.35" y="1121.65" width="35" height="35" fill="#FF0000" stroke="#111" stroke-width="2.5" stroke-linejoin="round"/>
<text font-family="'Liberation Sans', sans-serif" font-size="31.3" fill="#111" x="1510.6" y="1152.7">G5</text>
</svg>
</body>
</html>
